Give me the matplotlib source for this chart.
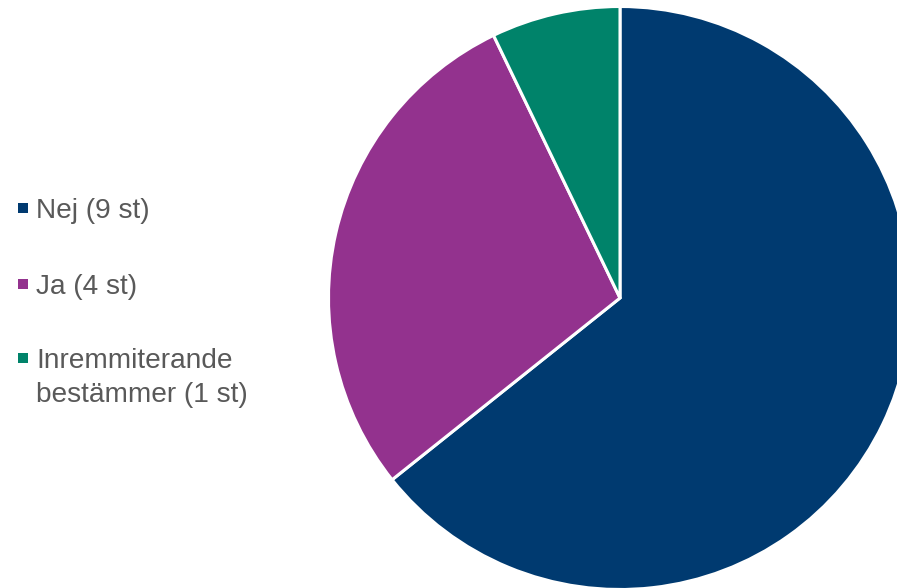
import matplotlib.pyplot as plt

## Data
labels = ['Nej (9 st)', 'Ja (4 st)', 'Inremmiterande\nbestämmer (1 st)']
counts = [9, 4, 1]
colors = ['#003A70', '#93328E', '#00836A']

plt.rcParams['font.family'] = ['Liberation Sans', 'DejaVu Sans']

fig = plt.figure(figsize=(8.97, 5.88), dpi=100)
ax = fig.add_axes([0, 0, 1, 1])

# pixel-like coordinates, y up
ax.pie(counts, colors=colors, startangle=90, counterclock=False,
       center=(620, 290), radius=291.5,
       wedgeprops=dict(edgecolor='white', linewidth=2.2))
ax.set_xlim(0, 897)
ax.set_ylim(0, 588)
ax.set_aspect('auto')
ax.axis('off')

## Legend on the left
ys = [380.5, 304, 230.5]
for lab, col, y in zip(labels, colors, ys):
    ax.scatter(22.5, y, marker='s', s=60, color=col, linewidths=0)
    lines = lab.split('\n')
    for i, ln in enumerate(lines):
        ax.text(36, y - 10 - i * 34, ln, fontsize=20.2, color='#595959',
                va='baseline', ha='left')

fig.savefig('out.png', dpi=100)
